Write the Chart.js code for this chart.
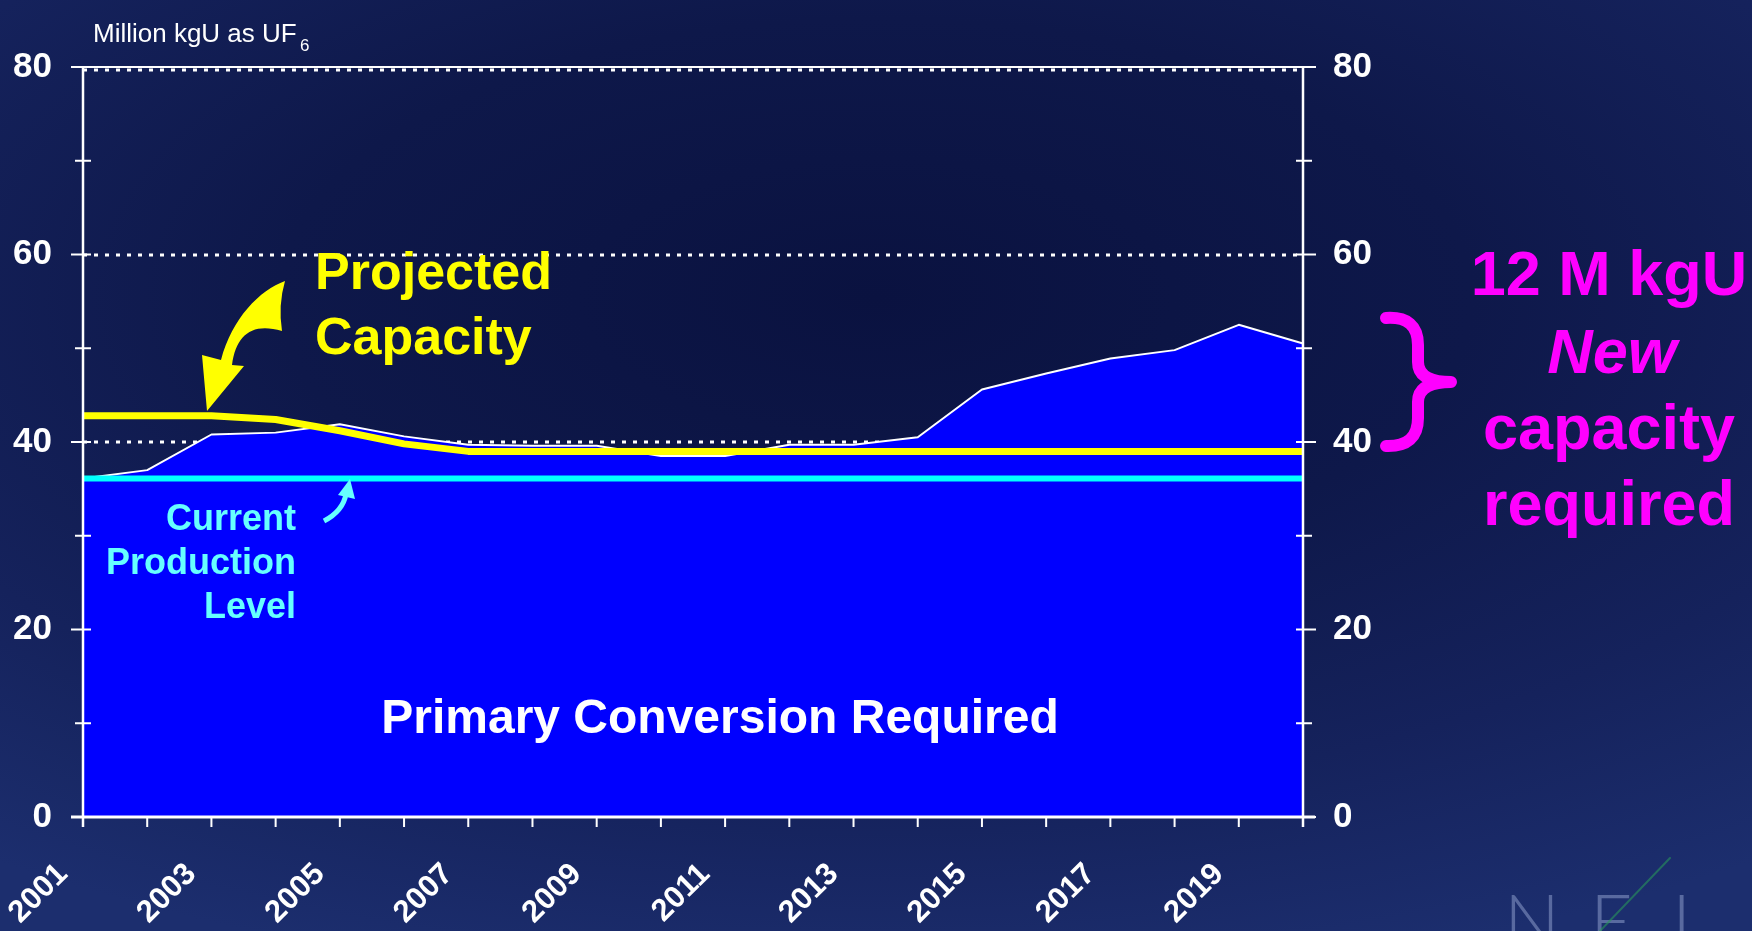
<!DOCTYPE html>
<html>
<head>
<meta charset="utf-8">
<script src="https://cdn.jsdelivr.net/npm/chart.js@4"></script>
<style>
  html, body { margin: 0; padding: 0; }
  body {
    width: 1752px; height: 931px; overflow: hidden;
    background: radial-gradient(ellipse 85% 75% at 50% 32%, #0a1240 0%, #0e184a 40%, #15225c 72%, #1c2e6e 100%);
  }
  canvas { display: block; }
</style>
</head>
<body>
<canvas id="chart" width="1752" height="931"></canvas>
<script>
// years on the category axis
const years = ["2001", "2002", "2003", "2004", "2005", "2006", "2007", "2008", "2009", "2010",
               "2011", "2012", "2013", "2014", "2015", "2016", "2017", "2018", "2019", "2020"];
const shownYears = ["2001", "2003", "2005", "2007", "2009", "2011", "2013", "2015", "2017", "2019"];

// Million kgU as UF6
const conversionRequired = [36.1, 37.0, 40.8, 41.0, 41.9, 40.6, 39.7, 39.6, 39.6, 38.5,
                            38.5, 39.7, 39.7, 40.5, 45.6, 47.3, 48.9, 49.8, 52.5, 50.5];
const projectedCapacity = [42.8, 42.8, 42.8, 42.4, 41.2, 39.8, 39.0, 39.0, 39.0, 39.0,
                           39.0, 39.0, 39.0, 39.0, 39.0, 39.0, 39.0, 39.0, 39.0, 39.0];
const currentProduction = [36.1, 36.1, 36.1, 36.1, 36.1, 36.1, 36.1, 36.1, 36.1, 36.1,
                           36.1, 36.1, 36.1, 36.1, 36.1, 36.1, 36.1, 36.1, 36.1, 36.1];

const yTicks = [0, 20, 40, 60, 80];
const yMinorTicks = [10, 30, 50, 70];
const gridValues = [20, 40, 60, 80];

const FONT = "'Liberation Sans', Arial, sans-serif";

// extra drawing: dotted grid, axis lines with crossing ticks, the call-outs
const deco = {
    id: "deco",
    beforeDatasetsDraw(chart) {
        const ctx = chart.ctx;
        const a = chart.chartArea;
        const y = chart.scales.y;
        ctx.save();
        ctx.strokeStyle = "#ffffff";
        ctx.lineWidth = 3;
        ctx.setLineDash([4, 7]);
        gridValues.forEach(function (v) {
            let py = Math.round(y.getPixelForValue(v));
            if (v == 80) py += 3;
            ctx.beginPath();
            ctx.moveTo(a.left, py);
            ctx.lineTo(a.right, py);
            ctx.stroke();
        });
        ctx.restore();
    },
    afterDatasetsDraw(chart) {
        const ctx = chart.ctx;
        const a = chart.chartArea;
        const x = chart.scales.x;
        const y = chart.scales.y;
        ctx.save();
        ctx.strokeStyle = "#ffffff";
        ctx.lineCap = "butt";

        // top line at 80
        ctx.lineWidth = 2;
        ctx.beginPath();
        ctx.moveTo(a.left - 12, a.top);
        ctx.lineTo(a.right + 12, a.top);
        ctx.stroke();

        // left and right axis
        ctx.lineWidth = 2.5;
        ctx.beginPath();
        ctx.moveTo(a.left, a.top);
        ctx.lineTo(a.left, a.bottom + 10);
        ctx.moveTo(a.right, a.top);
        ctx.lineTo(a.right, a.bottom + 10);
        ctx.stroke();

        // y ticks, crossing the axis
        ctx.lineWidth = 2;
        ctx.beginPath();
        yTicks.forEach(function (v) {
            const py = y.getPixelForValue(v);
            ctx.moveTo(a.left - 12, py); ctx.lineTo(a.left + 8, py);
            ctx.moveTo(a.right - 7, py); ctx.lineTo(a.right + 13, py);
        });
        yMinorTicks.forEach(function (v) {
            const py = y.getPixelForValue(v);
            ctx.moveTo(a.left - 8, py); ctx.lineTo(a.left + 8, py);
            ctx.moveTo(a.right - 7, py); ctx.lineTo(a.right + 9, py);
        });
        ctx.stroke();

        // x axis line and ticks
        ctx.lineWidth = 3;
        ctx.beginPath();
        ctx.moveTo(a.left - 12, a.bottom);
        ctx.lineTo(a.right + 12, a.bottom);
        ctx.stroke();
        ctx.lineWidth = 2;
        ctx.beginPath();
        years.forEach(function (yr, i) {
            const px = x.getPixelForValue(i);
            ctx.moveTo(px, a.bottom);
            ctx.lineTo(px, a.bottom + 10);
        });
        ctx.stroke();

        // unit title
        ctx.fillStyle = "#ffffff";
        ctx.textAlign = "left";
        ctx.textBaseline = "alphabetic";
        ctx.font = "26px " + FONT;
        ctx.fillText("Million kgU as UF", 93, 42);
        ctx.font = "17px " + FONT;
        ctx.fillText("6", 300, 51);

        // Projected Capacity
        ctx.fillStyle = "#ffff00";
        ctx.font = "bold 52px " + FONT;
        ctx.fillText("Projected", 315, 289);
        ctx.fillText("Capacity", 315, 354);

        // yellow curved arrow
        ctx.beginPath();
        ctx.moveTo(285, 281);
        ctx.bezierCurveTo(260, 290, 232, 318, 221, 360);
        ctx.lineTo(202, 355);
        ctx.lineTo(207, 411);
        ctx.lineTo(244, 366);
        ctx.lineTo(232, 365);
        ctx.bezierCurveTo(236, 335, 252, 322, 282, 331);
        ctx.quadraticCurveTo(278, 305, 285, 281);
        ctx.closePath();
        ctx.fill();

        // Current Production Level
        ctx.fillStyle = "#66ffff";
        ctx.textAlign = "right";
        ctx.font = "bold 36px " + FONT;
        ctx.fillText("Current", 296, 530);
        ctx.fillText("Production", 296, 574);
        ctx.fillText("Level", 296, 618);

        // small cyan arrow
        ctx.strokeStyle = "#66ffff";
        ctx.lineWidth = 5;
        ctx.beginPath();
        ctx.moveTo(324, 521);
        ctx.quadraticCurveTo(343, 511, 346, 494);
        ctx.stroke();
        ctx.beginPath();
        ctx.moveTo(350, 479);
        ctx.lineTo(355, 499);
        ctx.lineTo(338, 495);
        ctx.closePath();
        ctx.fill();

        // label inside the area
        ctx.fillStyle = "#ffffff";
        ctx.textAlign = "center";
        ctx.font = "bold 48px " + FONT;
        ctx.fillText("Primary Conversion Required", 720, 733);

        ctx.restore();
    },
    afterDraw(chart) {
        const ctx = chart.ctx;
        ctx.save();

        // magenta brace
        ctx.strokeStyle = "#ff00ff";
        ctx.lineWidth = 12;
        ctx.lineCap = "round";
        ctx.lineJoin = "round";
        ctx.beginPath();
        ctx.moveTo(1386, 318);
        ctx.quadraticCurveTo(1418, 316, 1418, 345);
        ctx.lineTo(1418, 362);
        ctx.quadraticCurveTo(1418, 382, 1451, 382);
        ctx.moveTo(1451, 382);
        ctx.quadraticCurveTo(1418, 382, 1418, 402);
        ctx.lineTo(1418, 418);
        ctx.quadraticCurveTo(1418, 447, 1386, 446);
        ctx.stroke();

        ctx.fillStyle = "#ff00ff";
        ctx.textAlign = "center";
        ctx.textBaseline = "alphabetic";
        ctx.font = "bold 63px " + FONT;
        ctx.fillText("12 M kgU", 1609, 295);
        ctx.font = "italic bold 63px " + FONT;
        ctx.fillText("New", 1612, 373);
        ctx.font = "bold 63px " + FONT;
        ctx.fillText("capacity", 1609, 449);
        ctx.fillText("required", 1609, 525);

        // faint logo
        ctx.fillStyle = "rgba(150,165,210,0.5)";
        ctx.font = "300 74px Lato, " + FONT;
        ctx.textAlign = "left";
        ctx.fillText("N", 1504, 948);
        ctx.fillText("E", 1590, 948);
        ctx.fillText("I", 1672, 948);
        ctx.strokeStyle = "rgba(40,150,90,0.6)";
        ctx.lineWidth = 2;
        ctx.beginPath();
        ctx.moveTo(1600, 931);
        ctx.lineTo(1670, 858);
        ctx.stroke();

        ctx.restore();
    },
};

const tickFont = { family: FONT, weight: "bold", size: 35 };

new Chart(document.getElementById("chart").getContext("2d"), {
    type: "line",
    data: {
        labels: years,
        datasets: [
            {
                label: "Current Production Level",
                data: currentProduction,
                borderColor: "#00ffff",
                borderWidth: 6,
                pointRadius: 0,
                fill: false,
                order: 1,
            },
            {
                label: "Projected Capacity",
                data: projectedCapacity,
                borderColor: "#ffff00",
                borderWidth: 7,
                pointRadius: 0,
                fill: false,
                order: 2,
            },
            {
                label: "Primary Conversion Required",
                data: conversionRequired,
                borderColor: "#ffffff",
                borderWidth: 2,
                backgroundColor: "#0000ff",
                pointRadius: 0,
                fill: "origin",
                order: 3,
            },
        ],
    },
    options: {
        responsive: false,
        animation: false,
        devicePixelRatio: 1,
        layout: { padding: { top: 67, right: 329, bottom: 0, left: 0 } },
        plugins: { legend: { display: false }, tooltip: { enabled: false } },
        elements: { line: { tension: 0, borderJoinStyle: "round" } },
        scales: {
            x: {
                type: "category",
                offset: false,
                grid: { display: false },
                border: { display: false },
                ticks: {
                    autoSkip: false,
                    minRotation: 45,
                    maxRotation: 45,
                    color: "#ffffff",
                    font: { family: FONT, weight: "bold", size: 31 },
                    padding: 31,
                    labelOffset: -20,
                    callback: function (v, i) {
                        return shownYears.includes(years[i]) ? years[i] : "";
                    },
                },
                afterFit: function (s) {
                    s.height = 114;
                    s.paddingLeft = 0;
                    s.paddingRight = 0;
                },
            },
            y: {
                position: "left",
                min: 0,
                max: 80,
                grid: { display: false },
                border: { display: false },
                afterBuildTicks: function (s) { s.ticks = yTicks.map(v => ({ value: v })); },
                ticks: { color: "#ffffff", font: tickFont, padding: 23 },
                afterFit: function (s) { s.width = 83; },
            },
            y2: {
                position: "right",
                min: 0,
                max: 80,
                grid: { display: false },
                border: { display: false },
                afterBuildTicks: function (s) { s.ticks = yTicks.map(v => ({ value: v })); },
                ticks: { color: "#ffffff", font: tickFont, padding: 22 },
                afterFit: function (s) { s.width = 120; },
            },
        },
    },
    plugins: [deco],
});
</script>
</body>
</html>
